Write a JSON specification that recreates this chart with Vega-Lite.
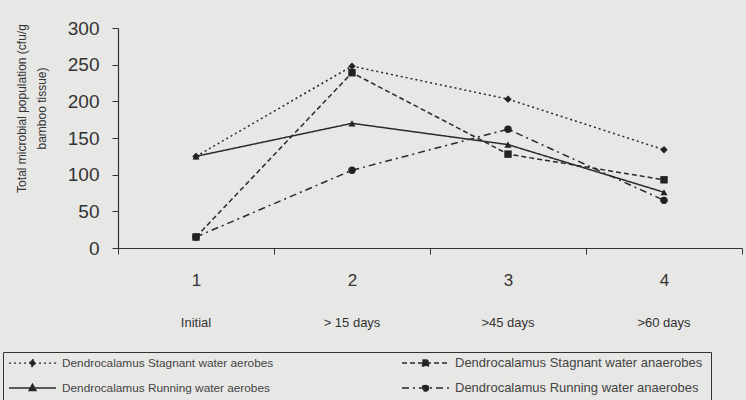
{
  "$schema": "https://vega.github.io/schema/vega-lite/v6.json",
  "width": 624,
  "height": 220,
  "autosize": "none",
  "padding": {"left": 118, "top": 28, "right": 4, "bottom": 152},
  "background": "#e7e7e5",
  "config": {
    "font": "Liberation Sans",
    "view": {"stroke": null},
    "axis": {"grid": false, "domainColor": "#333", "tickColor": "#333", "labelColor": "#333", "titleColor": "#333", "labelFont": "Liberation Sans", "titleFont": "Liberation Sans"}
  },
  "data": {
    "values": [
      {"t": "1", "series": "Dendrocalamus  Stagnant water aerobes", "value": 125},
      {"t": "2", "series": "Dendrocalamus  Stagnant water aerobes", "value": 248},
      {"t": "3", "series": "Dendrocalamus  Stagnant water aerobes", "value": 203},
      {"t": "4", "series": "Dendrocalamus  Stagnant water aerobes", "value": 134},
      {"t": "1", "series": "Dendrocalamus  Stagnant water anaerobes", "value": 15},
      {"t": "2", "series": "Dendrocalamus  Stagnant water anaerobes", "value": 239},
      {"t": "3", "series": "Dendrocalamus  Stagnant water anaerobes", "value": 128},
      {"t": "4", "series": "Dendrocalamus  Stagnant water anaerobes", "value": 93},
      {"t": "1", "series": "Dendrocalamus  Running water aerobes", "value": 125},
      {"t": "2", "series": "Dendrocalamus  Running water aerobes", "value": 170},
      {"t": "3", "series": "Dendrocalamus  Running water aerobes", "value": 141},
      {"t": "4", "series": "Dendrocalamus  Running water aerobes", "value": 76},
      {"t": "1", "series": "Dendrocalamus  Running water anaerobes", "value": 15},
      {"t": "2", "series": "Dendrocalamus  Running water anaerobes", "value": 106},
      {"t": "3", "series": "Dendrocalamus  Running water anaerobes", "value": 162},
      {"t": "4", "series": "Dendrocalamus  Running water anaerobes", "value": 65}
    ]
  },
  "layer": [
    {
      "encoding": {
        "x": {"field": "t", "type": "ordinal", "bandPosition": 0.5,
          "scale": {"type": "band", "paddingInner": 0, "paddingOuter": 0},
          "axis": {"title": null, "labelAngle": 0, "tickBand": "extent", "tickSize": 6, "labelFontSize": 17, "labelPadding": 18, "domainWidth": 1.2}},
        "y": {"field": "value", "type": "quantitative",
          "scale": {"domain": [0, 300]},
          "axis": {"values": [0, 50, 100, 150, 200, 250, 300], "labelOverlap": false, "labelFlush": false, "tickSize": 6, "labelFontSize": 19, "labelPadding": 13, "domainWidth": 1.2,
            "title": ["Total microbial population (cfu/g", "bamboo tissue)"], "titleFontSize": 12, "titleFontWeight": "normal", "titleLineHeight": 20, "titleX": -90, "titleY": 80, "titleAngle": -90, "titleAlign": "center", "titleBaseline": "bottom"}}
      },
      "layer": [
        {
          "mark": {"type": "line", "strokeWidth": 1.5, "color": "#2a2a2a"},
          "encoding": {
            "strokeDash": {"field": "series", "type": "nominal",
              "scale": {"domain": ["Dendrocalamus  Stagnant water aerobes", "Dendrocalamus  Stagnant water anaerobes", "Dendrocalamus  Running water aerobes", "Dendrocalamus  Running water anaerobes"],
                "range": [[2, 3], [5, 3], [1, 0], [7, 4, 2, 4]]},
              "legend": {"orient": "none", "legendX": -115, "legendY": 324, "columns": 2, "direction": "horizontal", "title": null,
                "symbolSize": 100, "symbolStrokeWidth": 1.3, "symbolStrokeColor": "#2a2a2a", "labelOffset": 42,
                "labelFontSize": 11.8, "labelColor": "#444", "labelLimit": 400, "columnPadding": 122, "rowPadding": 11,
                "strokeColor": "#333", "padding": 5,
                "encode": {
                  "labels": {"update": {"fontSize": {"signal": "datum.index % 2 == 1 ? 13 : 11.8"}}},
                  "symbols": {"update": {
                  "fill": {"value": "#222"},
                  "stroke": {"value": "#2a2a2a"},
                  "shape": {"signal": "datum.value == 'Dendrocalamus  Stagnant water aerobes' ? 'M-1,0H8.4M3.7,-0.8L4.3,0L3.7,0.8L3.1,0Z' : datum.value == 'Dendrocalamus  Stagnant water anaerobes' ? 'M-1,0H8.4M3.1,-0.6H4.3V0.6H3.1Z' : datum.value == 'Dendrocalamus  Running water aerobes' ? 'M-1,0H8.4M3.7,-0.8L4.4,0.5H3.0Z' : 'M-1,0H8.4M4.35,0A0.65,0.65 0 1,1 3.05,0A0.65,0.65 0 1,1 4.35,0Z'"}
                }}}}}
          }
        },
        {
          "transform": [{"filter": "datum.series == 'Dendrocalamus  Stagnant water aerobes'"}],
          "mark": {"type": "point", "filled": true, "size": 55, "shape": "diamond", "color": "#222", "opacity": 1}
        },
        {
          "transform": [{"filter": "datum.series == 'Dendrocalamus  Stagnant water anaerobes'"}],
          "mark": {"type": "point", "filled": true, "size": 55, "shape": "square", "color": "#222", "opacity": 1}
        },
        {
          "transform": [{"filter": "datum.series == 'Dendrocalamus  Running water aerobes'"}],
          "mark": {"type": "point", "filled": true, "size": 50, "shape": "triangle-up", "color": "#222", "opacity": 1}
        },
        {
          "transform": [{"filter": "datum.series == 'Dendrocalamus  Running water anaerobes'"}],
          "mark": {"type": "point", "filled": true, "size": 55, "shape": "circle", "color": "#222", "opacity": 1}
        }
      ]
    },
    {
      "mark": {"type": "point", "opacity": 0},
      "encoding": {
        "x": {"field": "t", "type": "ordinal", "bandPosition": 0.5,
          "axis": {"title": null, "orient": "bottom", "domain": false, "ticks": false, "labelAngle": 0, "labelFontSize": 13, "labelPadding": 68,
            "labelExpr": "datum.value == '1' ? 'Initial' : datum.value == '2' ? '> 15 days' : datum.value == '3' ? '>45 days' : '>60 days'"}}
      }
    }
  ],
  "resolve": {"axis": {"x": "independent"}}
}
